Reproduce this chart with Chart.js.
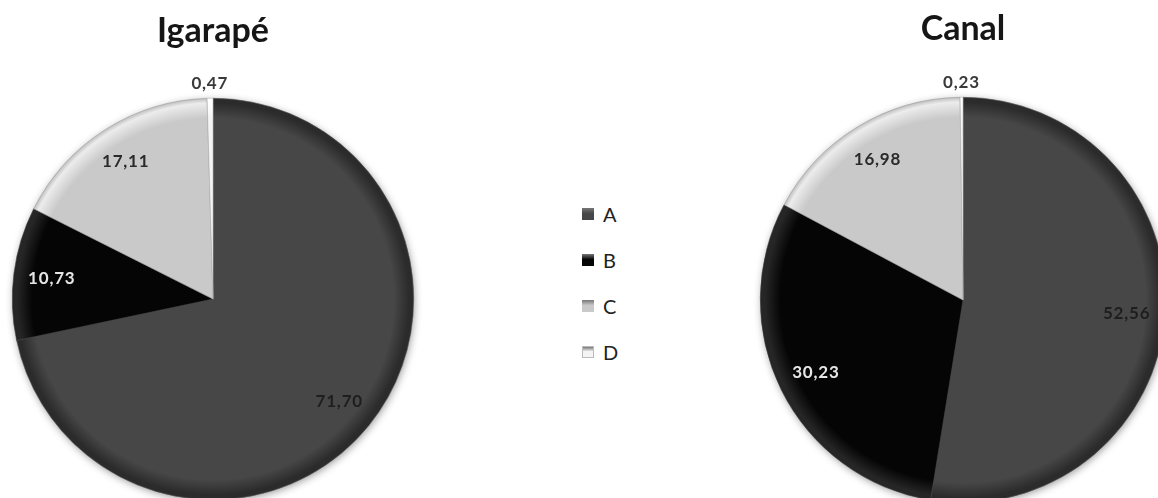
<!DOCTYPE html>
<html>
<head>
<meta charset="utf-8">
<script src="https://cdn.jsdelivr.net/npm/chart.js@4.4.1/dist/chart.umd.min.js"></script>
<style>
  html, body { margin: 0; padding: 0; background: #fff; overflow: hidden; width: 1158px; height: 498px; }
  .box { position: absolute; top: 0; }
  #left-box { left: 0; width: 426px; height: 520px; }
  #right-box { left: 750px; width: 426px; height: 523px; }
  #legend { position: absolute; left: 582px; top: 200px; font-family: Lato, 'Open Sans', sans-serif; font-size: 20px; color: #222; }
  #legend .row { display: flex; align-items: center; height: 28px; margin-bottom: 18px; }
  #legend .sw { width: 12px; height: 12px; margin-right: 9px; box-sizing: border-box; }
</style>
</head>
<body>
<div id="left-box" class="box"><canvas id="igarape"></canvas></div>
<div id="right-box" class="box"><canvas id="canal"></canvas></div>
<div id="legend"></div>
<script>
const $ = id => document.getElementById(id);

const categories = ['A', 'B', 'C', 'D'];
const igarapeValues = [71.70, 10.73, 17.11, 0.47];
const canalValues = [52.56, 30.23, 16.98, 0.23];

// cor base e cor da borda externa de cada fatia (efeito chanfrado do Excel)
const baseColors = ['#474747', '#050505', '#c9c9c9', '#f4f4f4'];
const rimColors = ['#2b2b2b', '#262626', '#ececec', '#ffffff'];
const labelColors = ['#1e1e1e', '#e6e6e6', '#2a2a2a', '#3a3a3a'];

const fmt = v => v.toFixed(2).replace('.', ',');

function sliceFill(ctx) {
  const i = ctx.dataIndex;
  const area = ctx.chart.chartArea;
  if (!area) return baseColors[i];
  const cx = (area.left + area.right) / 2, cy = (area.top + area.bottom) / 2;
  const r = Math.min(area.right - area.left, area.bottom - area.top) / 2;
  const g = ctx.chart.ctx.createRadialGradient(cx, cy, 0, cx, cy, r);
  g.addColorStop(0, baseColors[i]);
  g.addColorStop(0.9, baseColors[i]);
  g.addColorStop(0.975, rimColors[i]);
  g.addColorStop(1, i === 2 ? '#bdbdbd' : rimColors[i]);
  return g;
}

const shadowPlugin = {
  id: 'pieShadow',
  beforeDatasetsDraw(chart) {
    const arc = chart.getDatasetMeta(0).data[0];
    if (!arc) return;
    const c = chart.ctx;
    c.save();
    c.shadowColor = 'rgba(0,0,0,0.45)';
    c.shadowBlur = 9;
    c.shadowOffsetX = 1;
    c.shadowOffsetY = 2;
    c.fillStyle = '#888';
    c.beginPath();
    c.arc(arc.x, arc.y, arc.outerRadius - 1, 0, Math.PI * 2);
    c.fill();
    c.restore();
  }
};

const labelPlugin = {
  id: 'sliceLabels',
  afterDatasetsDraw(chart) {
    const c = chart.ctx;
    const values = chart.data.datasets[0].data;
    const total = values.reduce((a, b) => a + b, 0);
    c.save();
    c.font = 'bold 17px Lato, "Open Sans", sans-serif';
    if ('letterSpacing' in c) c.letterSpacing = '0.8px';
    c.textAlign = 'center';
    c.textBaseline = 'middle';
    chart.getDatasetMeta(0).data.forEach((arc, i) => {
      const { x, y, startAngle, endAngle, outerRadius } = arc.getProps(['x', 'y', 'startAngle', 'endAngle', 'outerRadius'], true);
      const mid = (startAngle + endAngle) / 2;
      const small = values[i] / total < 0.02;
      const d = small ? outerRadius + 15 : outerRadius * 0.81;
      c.fillStyle = labelColors[i];
      c.fillText(fmt(values[i]), x + Math.cos(mid) * d, y + Math.sin(mid) * d);
    });
    c.restore();
  }
};

function makePie(canvasId, title, values, pad, titlePad) {
  return new Chart($(canvasId), {
    type: 'pie',
    data: {
      labels: categories,
      datasets: [{
        data: values,
        backgroundColor: sliceFill,
        borderColor: ['#5a5a5a', '#3a3a3a', '#9a9a9a', '#b5b5b5'],
        borderWidth: 0.6,
      }]
    },
    options: {
      responsive: true,
      maintainAspectRatio: false,
      animation: false,
      layout: { padding: pad },
      plugins: {
        legend: { display: false },
        tooltip: { enabled: false },
        title: {
          display: true,
          text: title,
          color: '#161616',
          font: { family: 'Lato, "Open Sans", sans-serif', size: 34, weight: 'bold', lineHeight: 1.2 },
          padding: titlePad,
        },
      },
    },
    plugins: [shadowPlugin, labelPlugin],
  });
}

makePie('igarape', 'Igarapé', igarapeValues, { left: 12, right: 12, bottom: 20, top: 0 }, { top: 11, bottom: 46.2 });
makePie('canal', 'Canal', canalValues, { left: 10, right: 10, bottom: 20, top: 0 }, { top: 9, bottom: 47.2 });

// legenda comum aos dois gráficos
$('legend').innerHTML = categories.map((c, i) => {
  const border = i === 3 ? 'border:1px solid #bbb;' : '';
  return `<div class="row"><span class="sw" style="background:linear-gradient(#777 0%, ${baseColors[i]} 45%, ${baseColors[i]} 100%);${border}"></span>${c}</div>`;
}).join('');
</script>
</body>
</html>
